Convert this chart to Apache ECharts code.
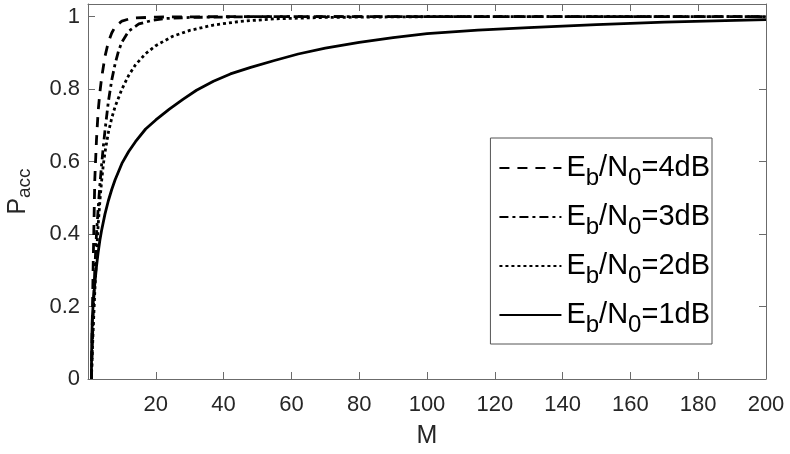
<!DOCTYPE html>
<html>
<head>
<meta charset="utf-8">
<script src="https://cdn.jsdelivr.net/npm/echarts@6/dist/echarts.min.js"></script>
<style>
  html, body { margin: 0; padding: 0; background: #fff; }
  #chart { width: 790px; height: 454px; }
</style>
</head>
<body>
<div id="chart"></div>
<script>
// values
const xTicks = [0, 20, 40, 60, 80, 100, 120, 140, 160, 180, 200];
const yTicks = [0, 0.2, 0.4, 0.6, 0.8, 1];
const snrDb = [4, 3, 2, 1];

const m4 = [1, 1.5, 2, 2.5, 3, 3.5, 4, 5, 6, 7, 8, 10, 13, 20, 40, 200];
const p4 = [0, 0.3, 0.55, 0.66, 0.74, 0.79, 0.83, 0.89, 0.93, 0.955, 0.972, 0.988, 0.996, 0.999, 1, 1];

const m3 = [1, 1.5, 2, 2.5, 3, 3.5, 4, 4.5, 5, 6, 7, 8, 9, 10, 12, 15, 19, 23, 30, 50, 200];
const p3 = [0, 0.17, 0.3, 0.4, 0.47, 0.535, 0.59, 0.64, 0.685, 0.765, 0.825, 0.87, 0.905, 0.93, 0.96, 0.98, 0.99, 0.995, 0.998, 1, 1];

const m2 = [1, 1.5, 2, 2.5, 3, 3.5, 4, 4.5, 5, 6, 7, 8, 10, 12, 14, 17, 20, 25, 30, 37, 45, 55, 70, 100, 200];
const p2 = [0, 0.13, 0.24, 0.34, 0.425, 0.49, 0.545, 0.59, 0.625, 0.68, 0.72, 0.752, 0.8, 0.838, 0.867, 0.898, 0.92, 0.946, 0.962, 0.977, 0.987, 0.994, 0.998, 1, 1];

const m1 = [1, 1.05, 1.15, 1.3, 1.6, 2, 2.5, 3, 3.5, 4, 5, 6, 7, 8, 10, 12, 14, 17, 20, 24, 28, 32, 37, 42, 48, 55, 62, 70, 80, 90, 100, 115, 130, 150, 170, 200];
const p1 = [0, 0.06, 0.12, 0.17, 0.22, 0.262, 0.31, 0.35, 0.383, 0.41, 0.455, 0.492, 0.523, 0.55, 0.595, 0.628, 0.655, 0.69, 0.715, 0.745, 0.772, 0.797, 0.822, 0.842, 0.86, 0.879, 0.897, 0.913, 0.929, 0.942, 0.953, 0.963, 0.97, 0.978, 0.985, 0.992];

const zip = (xs, ys) => xs.map((x, i) => [x, ys[i]]);
const names = snrDb.map(d => 'Eb/N0=' + d + 'dB');
const dashes = [[10, 8], [9, 4, 3, 4], [3, 3], 'solid'];
const curves = [zip(m4, p4), zip(m3, p3), zip(m2, p2), zip(m1, p1)];

const axisColor = '#6b6b6b';
const textColor = '#262626';
const font = 'Liberation Sans, Arial, Helvetica, sans-serif';

const chart = echarts.init(document.getElementById('chart'));

const baseX = {
    type: 'value',
    min: xTicks[0],
    max: xTicks[xTicks.length - 1],
    interval: 20,
    splitLine: { show: false },
    axisLine: { show: true, onZero: false, lineStyle: { color: axisColor, width: 1 } },
    axisTick: { show: true, inside: true, length: 7, lineStyle: { color: axisColor } }
};
const baseY = {
    type: 'value',
    min: 0,
    max: 1.035,
    interval: 0.2,
    splitLine: { show: false },
    axisLine: { show: true, onZero: false, lineStyle: { color: axisColor, width: 1 } },
    axisTick: { show: true, inside: true, length: 7, lineStyle: { color: axisColor } }
};

const option = {
    animation: false,
    backgroundColor: '#fff',
    grid: { left: 88, right: 24, top: 4, bottom: 75, containLabel: false, outerBoundsMode: 'none' },
    textStyle: { fontFamily: font },
    legend: {
        orient: 'vertical',
        right: 78,
        top: 138,
        data: names,
        itemWidth: 62,
        itemHeight: 14,
        itemGap: 5,
        padding: [8, 2, 7, 8],
        borderColor: '#555',
        borderWidth: 1,
        backgroundColor: '#fff',
        itemStyle: { opacity: 0 },
        formatter: function (name) {
            const d = name.split('=')[1];
            return '{m|E}{s|b}{m|/N}{s|0}{m|=' + d + '}';
        },
        textStyle: {
            rich: {
                m: { fontSize: 29, lineHeight: 32, color: '#000', fontFamily: font },
                s: { fontSize: 24, lineHeight: 20, color: '#000', fontFamily: font, padding: [20, 0, 0, 0] }
            }
        }
    },
    xAxis: [
        Object.assign({}, baseX, {
            position: 'bottom',
            name: 'M',
            nameLocation: 'middle',
            nameGap: 45,
            nameTextStyle: { fontSize: 25, color: textColor, fontFamily: font },
            axisLabel: {
                fontSize: 22, color: textColor, margin: 15, fontFamily: font,
                formatter: v => (v === 0 ? '' : String(v))
            }
        }),
        Object.assign({}, baseX, { position: 'top', axisLabel: { show: false } })
    ],
    yAxis: [
        Object.assign({}, baseY, {
            position: 'left',
            name: '{m|P}{s|acc}',
            nameLocation: 'middle',
            nameRotate: 90,
            nameGap: 56,
            nameTextStyle: {
                rich: {
                    m: { fontSize: 25, lineHeight: 28, color: textColor, fontFamily: font },
                    s: { fontSize: 19, lineHeight: 14, color: textColor, fontFamily: font, padding: [14, 0, 0, 0] }
                }
            },
            axisLabel: {
                fontSize: 22, color: textColor, margin: 8, fontFamily: font,
                formatter: function (v) {
                    const r = Math.round(v * 5) / 5;
                    return Math.abs(r - v) < 1e-6 ? String(+r.toFixed(1)) : '';
                }
            }
        }),
        Object.assign({}, baseY, { position: 'right', axisLabel: { show: false } })
    ],
    series: curves.map((data, i) => ({
        name: names[i],
        type: 'line',
        xAxisIndex: 0,
        yAxisIndex: 0,
        data: data,
        symbol: 'none',
        smooth: false,
        lineStyle: { color: '#000', width: 2.8, type: dashes[i], cap: 'butt' },
        itemStyle: { color: '#000' }
    }))
};

chart.setOption(option);
</script>
</body>
</html>
